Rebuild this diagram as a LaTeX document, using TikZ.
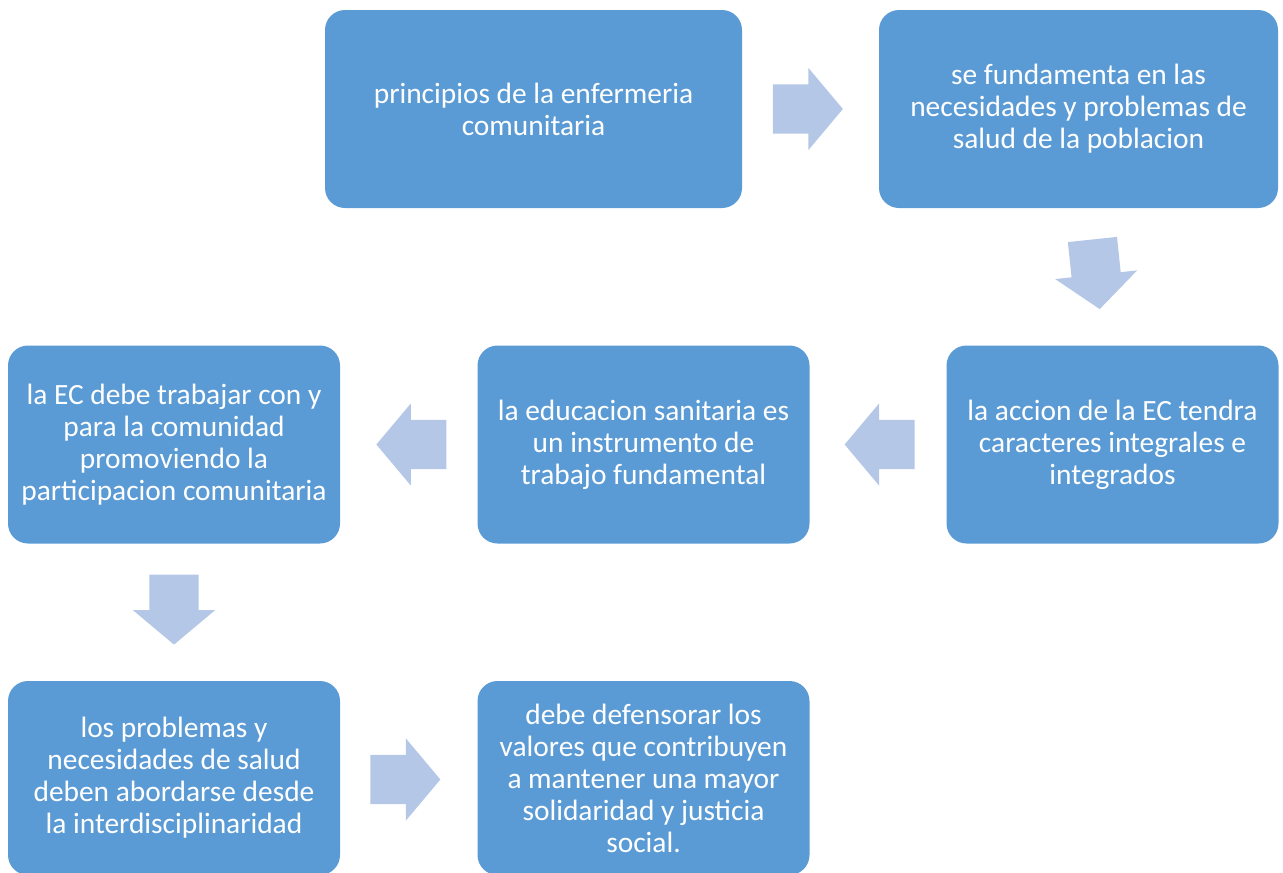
\documentclass[tikz,border=0pt]{standalone}
\usepackage{fontspec}
\setmainfont{Carlito}
\usepackage{tikz}
\usetikzlibrary{positioning,shapes.arrows,calc}
\definecolor{colorbox}  {RGB}{91 ,155,213}
\definecolor{colorarrow}{RGB}{180,199,231}

\begin{document}
\begin{tikzpicture}[
    x=1pt, y=-1pt,
    font={\fontsize{29.4}{32}\selectfont},
    step box/.style={fill=colorbox,rounded corners=20pt,text=white,align=center,
        inner sep=0pt,minimum height=198pt},
    flow arrow/.style={fill=colorarrow,single arrow,inner xsep=0pt,inner ysep=24.5pt,
        minimum height=70pt,single arrow head extend=16.5pt,
        single arrow tip angle=100},
]
    \useasboundingbox (0,0) rectangle (1283,873);

    \node[step box,minimum width=417pt] (principios) at (533.5,109) {principios de la enfermeria\\
    comunitaria};
    \node[step box,minimum width=399pt] (fundamenta) at (1078.5,109) {se fundamenta en las\\
    necesidades y problemas de\\
    salud de la poblacion};
    \node[step box,minimum width=332pt] (accion) at (1112.5,444.5) {la accion de la EC tendra\\
    caracteres integrales e\\
    integrados};
    \node[step box,minimum width=332pt] (educacion) at (643.5,444.5) {la educacion sanitaria es\\
    un instrumento de\\
    trabajo fundamental};
    \node[step box,minimum width=332pt] (comunidad) at (174,444.5) {la EC debe trabajar con y\\
    para la comunidad\\
    promoviendo la\\
    participacion comunitaria};
    \node[step box,minimum width=332pt,minimum height=194pt] (problemas) at (174,778) {los problemas y\\
    necesidades de salud\\
    deben abordarse desde\\
    la interdisciplinaridad};
    \node[step box,minimum width=332pt,minimum height=194pt] (valores) at (643.5,778) {debe defensorar los\\
    valores que contribuyen\\
    a mantener una mayor\\
    solidaridad y justicia\\
    social.};

    % arrows between the steps
    \node[flow arrow] (a1) at ($(principios.east)!0.5!(fundamenta.west)+(-13,0)$) {};
    \node[flow arrow,rotate=-84] (a2) at (1095,264) {};
    \node[flow arrow,rotate=180] (a3) at ($(accion.west)!0.5!(educacion.east)+(12,0)$) {};
    \node[flow arrow,rotate=180] (a4) at ($(educacion.west)!0.5!(comunidad.east)+(13,0)$) {};
    \node[flow arrow,rotate=-90] (a5) at ($(comunidad.south)!0.5!(problemas.north)+(0,-13)$) {};
    \node[flow arrow] (a6) at (395,779.5) {};

\end{tikzpicture}
\end{document}
